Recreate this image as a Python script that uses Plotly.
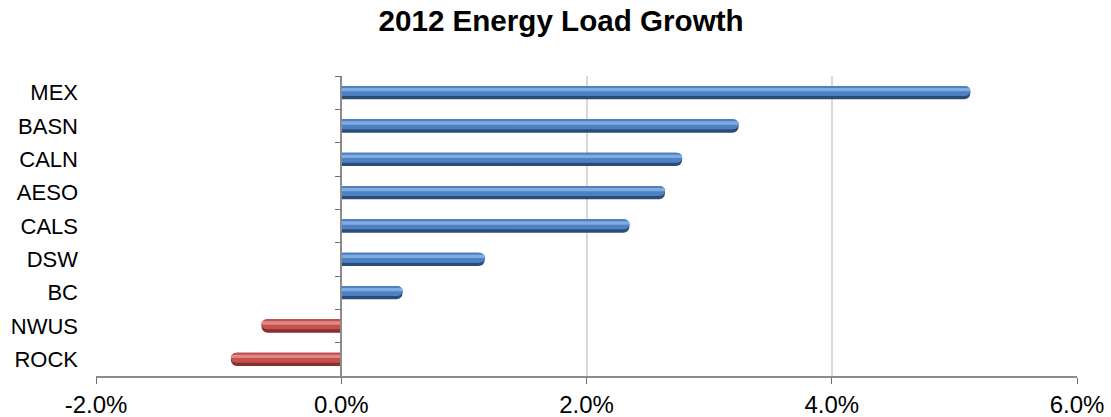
import plotly.graph_objects as go

categories = ["MEX", "BASN", "CALN", "AESO", "CALS", "DSW", "BC", "NWUS", "ROCK"]
growth_pct = [5.13, 3.24, 2.78, 2.64, 2.35, 1.17, 0.50, -0.65, -0.90]
x_ticks = [-2, 0, 2, 4, 6]
x_tick_labels = ["-2.0%", "0.0%", "2.0%", "4.0%", "6.0%"]

dark = ["#2C4C78" if v >= 0 else "#8A2F2D" for v in growth_pct]
mid = ["#4D82C2" if v >= 0 else "#C4514E" for v in growth_pct]
light = ["#80ABE2" if v >= 0 else "#DE8986" for v in growth_pct]

font_family = "Liberation Sans, Arial, sans-serif"

fig = go.Figure()
fig.add_trace(go.Bar(x=growth_pct, y=categories, orientation="h", width=0.4, offset=-0.2,
                     marker=dict(color=dark, cornerradius="50%", line=dict(width=0)),
                     showlegend=False, hoverinfo="skip"))
fig.add_trace(go.Bar(x=growth_pct, y=categories, orientation="h", width=0.3, offset=-0.2,
                     marker=dict(color=mid, cornerradius="50%", line=dict(width=0)),
                     showlegend=False, hoverinfo="skip"))
fig.add_trace(go.Bar(x=growth_pct, y=categories, orientation="h", width=0.1, offset=-0.14,
                     marker=dict(color=light, cornerradius="50%", line=dict(width=0)),
                     showlegend=False, hoverinfo="skip", yaxis="y2"))

fig.update_layout(
    width=1111, height=417,
    margin=dict(l=96, r=34, t=76, b=41, autoexpand=False),
    paper_bgcolor="white", plot_bgcolor="white",
    barmode="overlay",
    title=dict(text="<b>2012 Energy Load Growth</b>", x=0.505, xanchor="center",
               y=0.95, yanchor="middle",
               font=dict(family=font_family, size=29.6, color="#000000")),
    xaxis=dict(range=[-2, 6], tickvals=x_ticks, ticktext=x_tick_labels, automargin=False,
               showgrid=True, gridcolor="#D9D9D9", gridwidth=2, zeroline=False,
               showline=True, linecolor="#8C8C8C", linewidth=1.5,
               ticks="outside", ticklen=6, tickcolor="#6E6E6E",
               tickfont=dict(family=font_family, size=24, color="#000000")),
    yaxis=dict(type="category", categoryorder="array", categoryarray=categories,
               autorange="reversed", showgrid=False, zeroline=False, showline=False,
               ticks="", ticklabelstandoff=17, automargin=False,
               tickfont=dict(family=font_family, size=22, color="#000000")),
    yaxis2=dict(type="category", categoryorder="array", categoryarray=categories,
                overlaying="y", matches="y", anchor="free", position=0.25, side="left",
                automargin=False,
                showgrid=False, zeroline=False, showline=True, linecolor="#8C8C8C",
                linewidth=1.5, ticks="outside", tickson="boundaries", ticklen=6,
                tickcolor="#6E6E6E", showticklabels=False),
)

fig.write_html("out.html", config={"displayModeBar": False},
               post_script="document.body.style.margin='0';document.body.style.overflow='hidden';")
